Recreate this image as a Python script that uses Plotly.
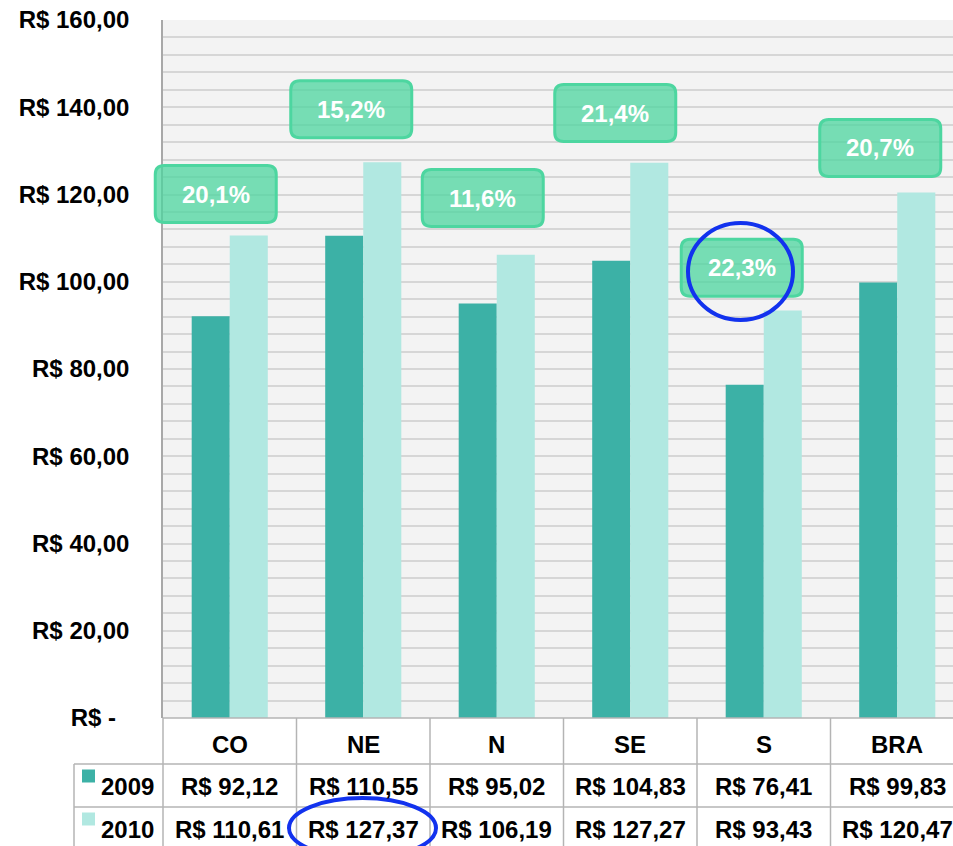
import plotly.graph_objects as go

# ---------------- data ----------------
categories = ["CO", "NE", "N", "SE", "S", "BRA"]
series_names = ["2009", "2010"]
values_2009 = [92.12, 110.55, 95.02, 104.83, 76.41, 99.83]
values_2010 = [110.61, 127.37, 106.19, 127.27, 93.43, 120.47]
growth_labels = ["20,1%", "15,2%", "11,6%", "21,4%", "22,3%", "20,7%"]
y_tick_values = [0, 20, 40, 60, 80, 100, 120, 140, 160]
y_tick_labels = ["R$ -&nbsp;&nbsp;", "R$ 20,00", "R$ 40,00", "R$ 60,00", "R$ 80,00",
                 "R$ 100,00", "R$ 120,00", "R$ 140,00", "R$ 160,00"]

# ---------------- layout parameters (pixels) ----------------
W, H = 953, 846
L, T, B = 163, 20, 128
plot_w = W - L
plot_h = H - T - B
col_w = 133.5
x_max = -0.5 + plot_w / col_w

label_dx = [-14, -12, -14, -15, -22, -17]           # pixel shift of growth boxes
label_dy = [9.5, 12.2, 13.0, 11.4, 9.8, 10.2]       # data-unit lift above 2010 bar

C_DARK = "#3cb1a6"
C_LIGHT = "#b1e8e1"
GRID = "#d6d6d6"
TABLE_LINE = "#b4b4b4"
BLUE = "#1232ee"
FONT = "Liberation Sans, Arial, sans-serif"
FS = 24


def xp(px):
    return (px - L) / plot_w


def yp(py):
    return (H - B - py) / plot_h


def brl(v):
    return "R$ " + f"{v:.2f}".replace(".", ",")


xs = list(range(len(categories)))

fig = go.Figure()
fig.add_trace(go.Bar(x=xs, y=values_2009, name=series_names[0], marker_color=C_DARK,
                     marker_line_width=0))
fig.add_trace(go.Bar(x=xs, y=values_2010, name=series_names[1], marker_color=C_LIGHT,
                     marker_line_width=0))

shapes = []
annotations = []

# growth label boxes (rounded rectangles sized in pixels)
bw, bh, r = 121, 57, 9
for i, lab in enumerate(growth_labels):
    dx = label_dx[i]
    x0, x1 = dx - bw / 2, dx + bw / 2
    y0, y1 = -bh / 2, bh / 2
    path = (f"M {x0+r},{y0} L {x1-r},{y0} Q {x1},{y0} {x1},{y0+r} "
            f"L {x1},{y1-r} Q {x1},{y1} {x1-r},{y1} L {x0+r},{y1} "
            f"Q {x0},{y1} {x0},{y1-r} L {x0},{y0+r} Q {x0},{y0} {x0+r},{y0} Z")
    yc = values_2010[i] + label_dy[i]
    shapes.append(dict(type="path", xref="paper", yref="paper",
                       xsizemode="pixel", ysizemode="pixel",
                       xanchor=(i + 0.5) * col_w / plot_w, yanchor=yc / 160, path=path,
                       fillcolor="rgba(76,214,159,0.75)",
                       line=dict(color="#4dd6a0", width=3), layer="above"))
    annotations.append(dict(x=i, y=yc, xref="x", yref="y", text=f"<b>{lab}</b>",
                            showarrow=False, xshift=dx, yshift=0,
                            font=dict(family=FONT, size=FS, color="white")))

# data table lines
line_style = dict(color=TABLE_LINE, width=1.5)
shapes.append(dict(type="line", xref="paper", yref="paper", x0=xp(L), x1=xp(W + 20),
                   y0=yp(H - B), y1=yp(H - B), line=line_style))
for py in (764, 807):
    shapes.append(dict(type="line", xref="paper", yref="paper", x0=xp(74), x1=xp(W + 20),
                       y0=yp(py), y1=yp(py), line=line_style))
for k in range(len(categories) + 1):
    px = L + k * col_w
    shapes.append(dict(type="line", xref="paper", yref="paper", x0=xp(px), x1=xp(px),
                       y0=yp(H - B), y1=yp(H + 10), line=line_style))
shapes.append(dict(type="line", xref="paper", yref="paper", x0=xp(74), x1=xp(74),
                   y0=yp(764), y1=yp(H + 10), line=line_style))

# category header, value rows
row_centers = {"cat": 744, series_names[0]: 786, series_names[1]: 829}
for i, c in enumerate(categories):
    annotations.append(dict(x=i, xref="x", y=yp(row_centers["cat"]), yref="paper",
                            text=f"<b>{c}</b>", showarrow=False, yanchor="middle",
                            font=dict(family=FONT, size=FS, color="black")))
    annotations.append(dict(x=i, xref="x", y=yp(row_centers[series_names[0]]), yref="paper",
                            text=f"<b>{brl(values_2009[i])}</b>", showarrow=False,
                            yanchor="middle", font=dict(family=FONT, size=FS, color="black")))
    annotations.append(dict(x=i, xref="x", y=yp(row_centers[series_names[1]]), yref="paper",
                            text=f"<b>{brl(values_2010[i])}</b>", showarrow=False,
                            yanchor="middle", font=dict(family=FONT, size=FS, color="black")))

# legend keys in the table
for name, col in zip(series_names, (C_DARK, C_LIGHT)):
    cy = row_centers[name]
    shapes.append(dict(type="rect", xref="paper", yref="paper", x0=xp(82), x1=xp(95),
                       y0=yp(cy - 3.5), y1=yp(cy - 16.5), fillcolor=col, line_width=0))
    annotations.append(dict(x=xp(99), xref="paper", y=yp(cy), yref="paper", xanchor="left",
                            yanchor="middle", text=f"<b>{name}</b>", showarrow=False,
                            font=dict(family=FONT, size=FS, color="black")))

# blue hand-drawn highlight ellipses
shapes.append(dict(type="circle", xref="paper", yref="paper", x0=xp(688), x1=xp(793),
                   y0=yp(223), y1=yp(320), line=dict(color=BLUE, width=4), layer="above"))
shapes.append(dict(type="circle", xref="paper", yref="paper", x0=xp(289), x1=xp(436),
                   y0=yp(798), y1=yp(858), line=dict(color=BLUE, width=4), layer="above"))

fig.update_layout(
    width=W, height=H,
    margin=dict(l=L, r=0, t=T, b=B, pad=0),
    paper_bgcolor="white",
    plot_bgcolor="#f3f3f3",
    barmode="group", bargap=0.43, bargroupgap=0,
    showlegend=False,
    shapes=shapes,
    annotations=annotations,
    font=dict(family=FONT, color="black"),
    xaxis=dict(type="linear", range=[-0.5, x_max], showticklabels=False, showgrid=False,
               zeroline=False, ticks="", fixedrange=True),
    yaxis=dict(range=[0, 160], tickvals=y_tick_values,
               ticktext=[f"<b>{t}</b>" for t in y_tick_labels],
               tickfont=dict(family=FONT, size=FS, color="black"), ticks="",
               ticklabelstandoff=27,
               showgrid=True, gridcolor=GRID, gridwidth=1.5,
               minor=dict(dtick=4, showgrid=True, gridcolor=GRID, gridwidth=1.5),
               showline=True, linecolor="#a8a8a8", linewidth=1.5, zeroline=False),
)

fig.write_html(
    "out.html",
    config={"displayModeBar": False},
    post_script="document.body.style.margin='0';document.body.style.overflow='hidden';",
)
